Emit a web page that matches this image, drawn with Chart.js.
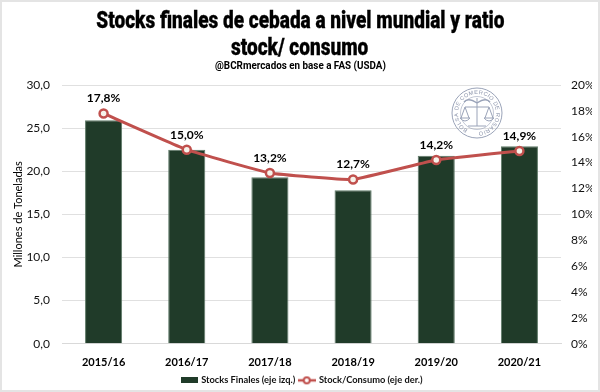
<!DOCTYPE html>
<html>
<head>
<meta charset="utf-8">
<script src="https://cdn.jsdelivr.net/npm/chart.js@4"></script>
<style>
  html, body { margin: 0; padding: 0; background: #fff; }
  #wrap { position: relative; width: 600px; height: 392px; box-sizing: border-box; border: 2px solid #e4e4e4; overflow: hidden; }
  #chart { position: absolute; left: -2px; top: -2px; }
  #seal { position: absolute; left: 449px; top: 85px; }
  .head { position: absolute; left: 0; width: 596px; text-align: center; color: #000; font-family: Roboto, sans-serif; font-weight: 900; white-space: nowrap; }
  .head span { display: inline-block; }
  #t1 { top: 4px; font-size: 24px; line-height: 28px; -webkit-text-stroke: 0.3px #000; }
  #t2 { top: 31px; font-size: 24px; line-height: 28px; -webkit-text-stroke: 0.3px #000; }
  #t1 span, #t2 span { transform: scaleX(0.793); }
  #sub { top: 57px; font-size: 11px; line-height: 14px; font-weight: 700; }
  #sub span { transform: scaleX(0.895); }
</style>
</head>
<body>
<div id="wrap">
  <canvas id="chart" width="600" height="395"></canvas>
  <div class="head" id="t1"><span>Stocks finales de cebada a nivel mundial y ratio</span></div>
  <div class="head" id="t2"><span>stock/ consumo</span></div>
  <div class="head" id="sub"><span>@BCRmercados en base a FAS (USDA)</span></div>
  <svg id="seal" width="52" height="52" viewBox="0 0 52 52">
    <defs><path id="ring" d="M26 45 A19 19 0 1 1 26.01 45"/></defs>
    <g fill="none" stroke="#9aa3b8">
      <circle cx="26" cy="26" r="25" stroke-width="1"/>
      <circle cx="26" cy="26" r="16.5" stroke-width="0.6"/>
      <path d="M26 11 V39 M14 20 H38 M14 20 L10 31 M14 20 L18 31 M38 20 L34 31 M38 20 L42 31" stroke-width="1"/>
      <path d="M9 31 Q14 37 19 31 Z M33 31 Q38 37 43 31 Z M17 39 H35" stroke-width="1"/>
      <path d="M26 16 Q17 10 13 15 M26 16 Q35 10 39 15" stroke-width="1.4"/>
    </g>
    <text font-family="Liberation Sans" font-size="5.6" letter-spacing="0.4" fill="#8a93aa"><textPath href="#ring" startOffset="8%">BOLSA DE COMERCIO DE ROSARIO</textPath></text>
  </svg>
</div>
<script>
const campaigns = ['2015/16', '2016/17', '2017/18', '2018/19', '2019/20', '2020/21'];
const stocksFinales = [25.9, 22.5, 19.3, 17.8, 21.8, 22.9];
const stockConsumo = [17.8, 15.0, 13.2, 12.7, 14.2, 14.9];

const labelFont = 'Lato, "Open Sans", sans-serif';
const barColor = '#203b29';
const lineColor = '#c0504d';
const coma = (v, d) => v.toFixed(d).replace('.', ',');

// etiquetas de la linea (arriba de cada punto)
const lineLabels = {
  id: 'lineLabels',
  afterDatasetsDraw(chart) {
    const ctx = chart.ctx;
    const points = chart.getDatasetMeta(1).data;
    ctx.save();
    ctx.font = 'bold 12px ' + labelFont;
    ctx.fillStyle = '#000';
    ctx.textAlign = 'center';
    ctx.textBaseline = 'alphabetic';
    points.forEach((p, i) => {
      ctx.fillText(coma(stockConsumo[i], 1) + '%', p.x, p.y - 11);
    });
    ctx.restore();
  }
};

// muestras de la leyenda: rectangulo y linea con marcador
function barSwatch() {
  const c = document.createElement('canvas');
  c.width = 17; c.height = 6;
  const g = c.getContext('2d');
  g.fillStyle = barColor;
  g.fillRect(0, 0, 17, 6);
  return c;
}

function lineSwatch() {
  const c = document.createElement('canvas');
  c.width = 18; c.height = 10;
  const g = c.getContext('2d');
  g.strokeStyle = lineColor;
  g.lineWidth = 2.5;
  g.beginPath(); g.moveTo(0, 5); g.lineTo(18, 5); g.stroke();
  g.fillStyle = '#fff';
  g.lineWidth = 2;
  g.beginPath(); g.arc(9, 5, 3, 0, Math.PI * 2); g.fill(); g.stroke();
  return c;
}

function fixWidth(w) {
  return (axis) => { axis.width = w; };
}

new Chart(document.getElementById('chart'), {
  data: {
    labels: campaigns,
    datasets: [
      {
        type: 'bar',
        label: 'Stocks Finales (eje izq.)',
        data: stocksFinales,
        yAxisID: 'y',
        order: 2,
        backgroundColor: barColor,
        borderColor: '#5f7a68',
        borderWidth: 1,
        barPercentage: 0.446,
        categoryPercentage: 1
      },
      {
        type: 'line',
        label: 'Stock/Consumo (eje der.)',
        data: stockConsumo,
        yAxisID: 'y2',
        order: 1,
        borderColor: lineColor,
        borderWidth: 3,
        pointRadius: 4,
        pointBorderWidth: 2.5,
        pointBackgroundColor: '#f6f2ea',
        pointBorderColor: lineColor,
        tension: 0.1
      }
    ]
  },
  options: {
    responsive: false,
    animation: false,
    layout: { padding: { left: 12, right: 8, top: 85, bottom: 0 } },
    plugins: {
      legend: {
        position: 'bottom',
        labels: {
          color: '#111',
          font: { family: labelFont, size: 9.3, weight: 'bold' },
          usePointStyle: true,
          pointStyleWidth: 15,
          padding: 4,
          generateLabels: () => [
            { text: 'Stocks Finales (eje izq.)', pointStyle: barSwatch(), datasetIndex: 0, fontColor: '#111', lineWidth: 0, strokeStyle: 'transparent', fillStyle: barColor },
            { text: 'Stock/Consumo (eje der.)', pointStyle: lineSwatch(), datasetIndex: 1, fontColor: '#111', lineWidth: 0, strokeStyle: 'transparent', fillStyle: lineColor }
          ]
        }
      },
      tooltip: { enabled: false }
    },
    scales: {
      x: {
        afterFit: (axis) => { axis.height = 28; },
        grid: { display: false },
        border: { color: '#d9d9d9' },
        ticks: { color: '#000', font: { family: labelFont, size: 11, weight: 'bold' }, padding: 4 }
      },
      y: {
        min: 0,
        max: 30,
        afterFit: fixWidth(50),
        title: {
          display: true,
          text: 'Millones de Toneladas',
          color: '#000',
          font: { family: labelFont, size: 11 },
          padding: 0
        },
        grid: { color: '#e0e0e0', drawTicks: false },
        border: { display: false },
        ticks: {
          stepSize: 5,
          color: '#111',
          padding: 12,
          font: { family: labelFont, size: 12 },
          callback: (v) => coma(v, 1)
        }
      },
      y2: {
        position: 'right',
        min: 0,
        max: 20,
        afterFit: fixWidth(31),
        grid: { display: false, drawTicks: false },
        border: { display: false },
        ticks: {
          stepSize: 2,
          color: '#111',
          padding: 10,
          font: { family: labelFont, size: 12 },
          callback: (v) => v + '%'
        }
      }
    }
  },
  plugins: [lineLabels]
});
</script>
</body>
</html>
